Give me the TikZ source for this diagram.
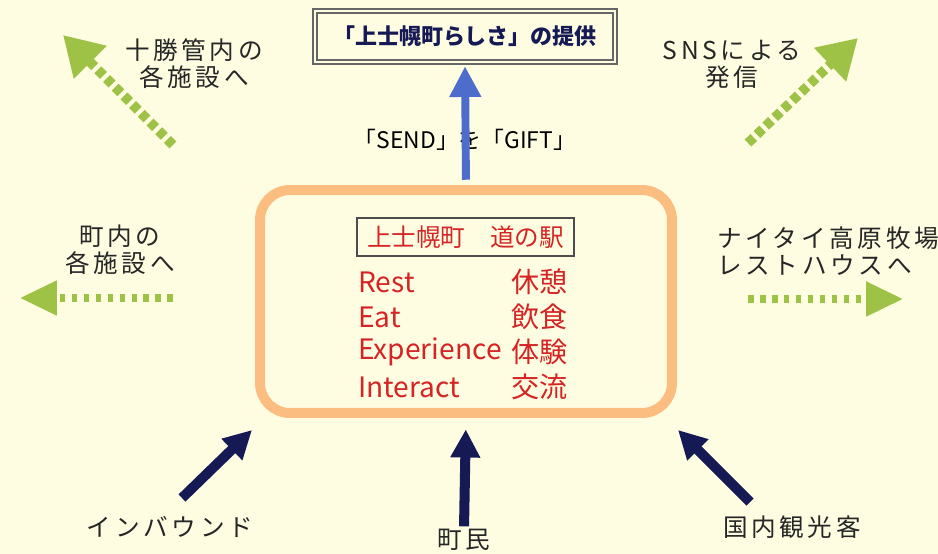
\documentclass[tikz,border=0pt]{standalone}
\usepackage{fontspec}
\setmainfont{Noto Sans CJK JP}
\newfontfamily\lblfont{Noto Sans CJK JP}[LetterSpace=15]
\usepackage{tikz}
\usetikzlibrary{arrows.meta,positioning}
\definecolor{bgyellow}{RGB}{254,253,226}
\definecolor{boxorange}{RGB}{252,190,128}
\definecolor{ekired}{RGB}{212,36,36}
\definecolor{giftblue}{RGB}{78,108,204}
\definecolor{visnavy}{RGB}{22,26,84}
\definecolor{outgreen}{RGB}{158,194,70}
\definecolor{palegreen}{RGB}{200,216,128}
\tikzset{
  lbl/.style={font=\lblfont\fontsize{14}{15.4}\selectfont, text=black!85, align=center, inner sep=0pt},
  redrow/.style={font=\fontsize{16}{18}\selectfont, text=ekired, anchor=west, inner sep=0pt},
  ekibox/.style={draw=boxorange, line width=5.7pt, rounded corners=17pt, minimum width=8.24cm, minimum height=4.46cm},
  navyarr/.style={visnavy, line width=5.7pt, -{Triangle[width=16pt,length=16pt]}},
  bluearr/.style={giftblue, line width=4.5pt, -{Triangle[width=17pt,length=17.5pt]}},
  greenarr/.style={outgreen, line width=5.5pt, dash pattern=on 4.5pt off 2.5pt, -{Triangle[width=25pt,length=22pt]}},
  sidearr/.style={palegreen, line width=4pt, dash pattern=on 3.2pt off 3.6pt, -{Triangle[width=19pt,length=21pt,fill=outgreen]}, outgreen}
}
\begin{document}
\begin{tikzpicture}[x=0.02cm,y=-0.02cm]
	\fill[bgyellow] (0,0) rectangle (938,554);
	\useasboundingbox (0,0) rectangle (938,554);
	\node[ekibox] (eki) at (466,301.5) {};
	\node[draw=gray!80!black, line width=0.8pt, double=bgyellow, double distance=1.6pt, minimum width=6cm, minimum height=1.02cm, font=\bfseries\fontsize{12.5}{14}\selectfont, text=visnavy] (gift) at (465,36.5) {「上士幌町らしさ」の提供};
	\node[draw=black!70, line width=1.1pt, minimum width=4.34cm, minimum height=0.76cm, font=\fontsize{14}{16}\selectfont, text=ekired, inner sep=0pt] (title) at (465.5,237) {上士幌町\hspace{1em}道の駅};
	\node[redrow] (rest) at (358,282) {Rest};
	\node[redrow] (eat) at (358,317) {Eat};
	\node[redrow] (exp) at (358,352) {Experience};
	\node[redrow] (inter) at (358,387) {Interact};
	\node[redrow] (kyukei) at (511,282) {休憩};
	\node[redrow] (inshoku) at (511,317) {飲食};
	\node[redrow] (taiken) at (511,352) {体験};
	\node[redrow] (koryu) at (511,387) {交流};
	\node[font=\fontsize{13}{15}\selectfont, inner sep=0pt] (send) at (465,140) {「SEND」を「GIFT」};
	\draw[bluearr, shorten <=3pt, shorten >=2pt] (eki.north) -- (gift.south);
	\node[lbl] (tokachi) at (194,64) {十勝管内の\\各施設へ};
	\node[lbl] (sns) at (732,64) {SNSによる\\発信};
	\node[lbl] (chonai) at (120,250) {町内の\\各施設へ};
	\node[lbl, align=left, anchor=west] (naitai) at (717,251) {ナイタイ高原牧場\\レストハウスへ};
	\node[lbl] (inb) at (170,527) {インバウンド};
	\node[lbl] (chomin) at (464,540) {町民};
	\node[lbl] (kokunai) at (792,527) {国内観光客};
	\coordinate (tl0) at (173,145);
	\coordinate (tl1) at (63,35);
	\coordinate (tr0) at (748,143);
	\coordinate (tr1) at (858,38);
	\coordinate (ml0) at (173,298);
	\coordinate (ml1) at (20,298);
	\coordinate (mr0) at (748,299);
	\coordinate (mr1) at (903,299);
	\coordinate (inbfoot) at (182,498);
	\coordinate (inbtip) at (252,430);
	\coordinate (kokfoot) at (750,502);
	\coordinate (koktip) at (678,430);
	\draw[greenarr] (tl0) -- (tl1);
	\draw[greenarr] (tr0) -- (tr1);
	\draw[sidearr] (ml0) -- (ml1);
	\draw[sidearr] (mr0) -- (mr1);
	\draw[navyarr] (inbfoot) -- (inbtip);
	\draw[navyarr] (kokfoot) -- (koktip);
	\draw[navyarr, shorten <=1.5pt, shorten >=6.5pt] (chomin.north) -- (eki.south);
\end{tikzpicture}
\end{document}
